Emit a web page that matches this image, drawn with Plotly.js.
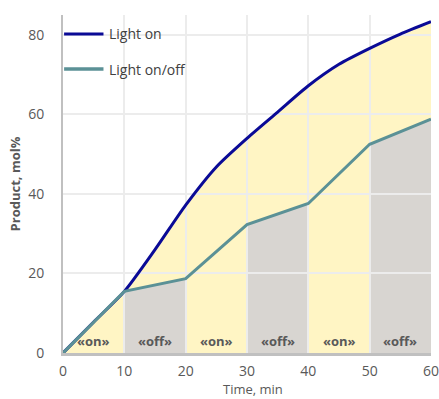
<!DOCTYPE html>
<html>
<head>
<meta charset="utf-8">
<script src="https://cdn.plot.ly/plotly-3.0.1.min.js"></script>
<style>html,body{margin:0;padding:0;background:#fff;}#chart{width:439px;height:399px;}</style>
</head>
<body>
<div id="chart"></div>
<script>
// Data
const timeOn = [0, 5, 10, 15, 20, 25, 30, 35, 40, 45, 50, 55, 60];
const lightOn = [0, 7.8, 15.5, 26, 37.2, 46.8, 54.0, 60.6, 67.2, 72.6, 76.6, 80.2, 83.3];
const timeOnOff = [0, 10, 20, 30, 40, 50, 60];
const lightOnOff = [0, 15.5, 18.7, 32.3, 37.6, 52.5, 58.8];
const phaseLabels = ['«on»', '«off»', '«on»', '«off»', '«on»', '«off»'];
const phaseStart = [0, 10, 20, 30, 40, 50];
const phaseEnd = [10, 20, 30, 40, 50, 60];
const seriesNames = ['Light on', 'Light on/off'];
const xTicks = [0, 10, 20, 30, 40, 50, 60];
const yTicks = [0, 20, 40, 60, 80];
const xTitle = 'Time, min';
const yTitle = 'Product, mol%';

const yellow = '#fff5c4';
const gray = '#d8d5d1';
const blue = '#0a0a96';
const teal = '#5b9196';
const txt = '#595959';
const font = 'Open Sans, Noto Sans, sans-serif';

const traces = [];
// Yellow area under the "Light on" curve (lower subplot)
traces.push({
  x: timeOn, y: lightOn, type: 'scatter', mode: 'lines',
  line: {width: 0, shape: 'spline', smoothing: 0.7}, fill: 'tozeroy', fillcolor: yellow,
  xaxis: 'x', yaxis: 'y', hoverinfo: 'skip', showlegend: false
});
// Gray areas under the on/off curve in "off" phases
phaseLabels.forEach((lab, i) => {
  if (lab !== '«off»') return;
  const xs = [], ys = [];
  timeOnOff.forEach((t, k) => {
    if (t >= phaseStart[i] && t <= phaseEnd[i]) { xs.push(t); ys.push(lightOnOff[k]); }
  });
  traces.push({
    x: xs, y: ys, type: 'scatter', mode: 'lines', line: {width: 0},
    fill: 'tozeroy', fillcolor: gray, xaxis: 'x', yaxis: 'y', hoverinfo: 'skip', showlegend: false
  });
});
// Lines on upper subplot (same domain) so its grid sits above the fills
traces.push({
  x: timeOn, y: lightOn, type: 'scatter', mode: 'lines', name: seriesNames[0],
  line: {color: blue, width: 3, shape: 'spline', smoothing: 0.7}, xaxis: 'x2', yaxis: 'y2', showlegend: false
});
traces.push({
  x: timeOnOff, y: lightOnOff, type: 'scatter', mode: 'lines', name: seriesNames[1],
  line: {color: teal, width: 3}, xaxis: 'x2', yaxis: 'y2', showlegend: false
});

const annotations = phaseLabels.map((lab, i) => ({
  x: (phaseStart[i] + phaseEnd[i]) / 2, y: 3.1, xref: 'x2', yref: 'y2',
  text: '<b>' + lab + '</b>', showarrow: false, yanchor: 'middle',
  font: {family: font, size: 13, color: txt}
}));
// Legend text
annotations.push({x: 0.12, y: 0.944, xref: 'paper', yref: 'paper', xanchor: 'left', yanchor: 'middle',
  text: seriesNames[0], showarrow: false, font: {family: font, size: 14, color: '#404040'}});
annotations.push({x: 0.12, y: 0.840, xref: 'paper', yref: 'paper', xanchor: 'left', yanchor: 'middle',
  text: seriesNames[1], showarrow: false, font: {family: font, size: 14, color: '#404040'}});
// X axis title
annotations.push({x: 0.516, y: -0.136, xref: 'paper', yref: 'paper', xanchor: 'center', yanchor: 'bottom',
  text: xTitle, showarrow: false, font: {family: font, size: 13, color: txt}, borderpad: 0});

const shapes = [
  {type: 'line', xref: 'paper', yref: 'paper', x0: 0.003, x1: 0.11, y0: 0.944, y1: 0.944, line: {color: blue, width: 3}, layer: 'above'},
  {type: 'line', xref: 'paper', yref: 'paper', x0: 0.003, x1: 0.11, y0: 0.840, y1: 0.840, line: {color: teal, width: 3.5}, layer: 'above'}
];

const hidden = {showgrid: false, zeroline: false, showline: false, showticklabels: false, ticks: '', domain: [0, 1]};
const layout = {
  width: 439, height: 399,
  margin: {l: 63, r: 8, t: 15, b: 46},
  paper_bgcolor: 'rgba(0,0,0,0)', plot_bgcolor: 'rgba(0,0,0,0)',
  showlegend: false,
  xaxis: Object.assign({}, hidden, {range: [0, 60], anchor: 'y'}),
  yaxis: Object.assign({}, hidden, {range: [0, 85], anchor: 'x'}),
  xaxis2: {
    domain: [0, 1], anchor: 'y2', side: 'bottom', range: [0, 60], tickvals: xTicks,
    showgrid: true, gridcolor: '#ececec', gridwidth: 2, zeroline: false,
    showline: true, linecolor: '#c0c0c0', linewidth: 3, ticks: '', ticklabelstandoff: 3,
    ticklabeloverflow: 'allow',
    tickfont: {family: font, size: 14, color: txt}
  },
  yaxis2: {
    domain: [0, 1], anchor: 'x2', side: 'left', range: [0, 85], tickvals: yTicks,
    showgrid: true, gridcolor: '#ececec', gridwidth: 2, zeroline: false,
    showline: true, linecolor: '#c0c0c0', linewidth: 2, ticks: '', ticklabelstandoff: 14,
    tickfont: {family: font, size: 14, color: txt},
    title: {text: '<b>' + yTitle + '</b>', font: {family: font, size: 13, color: txt}, standoff: 5}
  },
  annotations: annotations,
  shapes: shapes
};

Plotly.newPlot('chart', traces, layout, {displayModeBar: false, staticPlot: true});
</script>
</body>
</html>
